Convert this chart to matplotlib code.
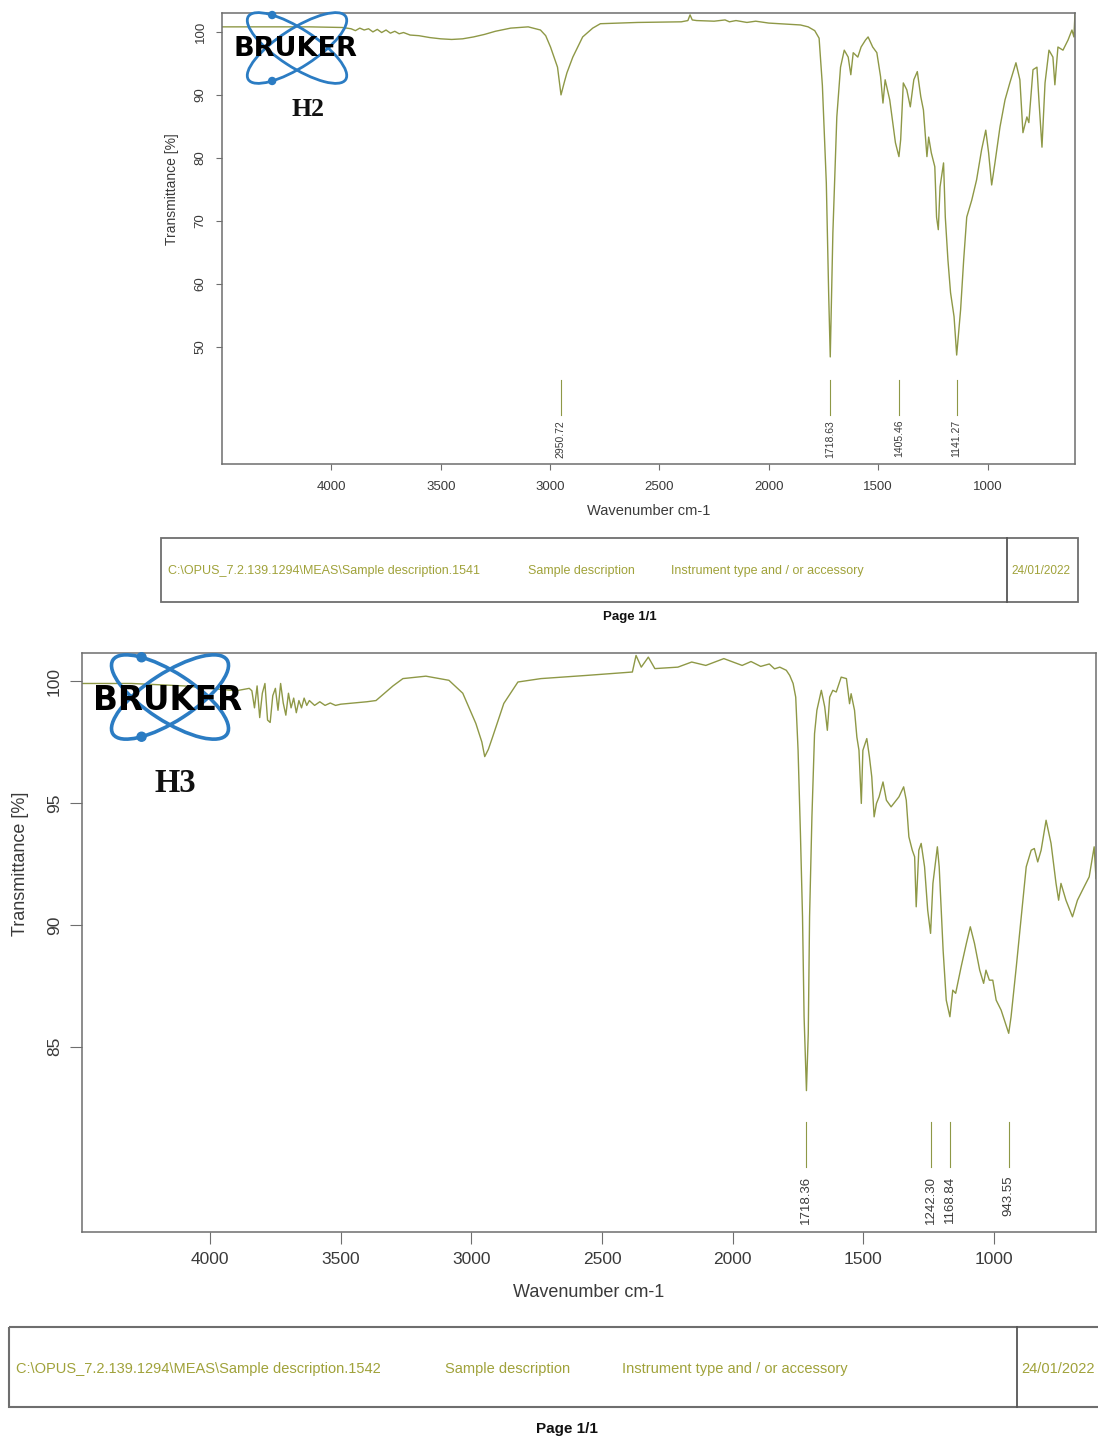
import matplotlib
matplotlib.use("Agg")
import matplotlib.pyplot as plt
from matplotlib.patches import Ellipse, Rectangle, Circle
from matplotlib.transforms import blended_transform_factory
import numpy as np

plt.rcParams['font.family'] = ['Liberation Sans', 'DejaVu Sans']

# ---------------- data: H2 spectrum ----------------
h2_wn = [4500, 4300, 4100, 3950, 3910, 3890, 3870, 3850, 3830, 3810, 3790, 3770, 3750, 3730,
         3710, 3690, 3670, 3640, 3600, 3550, 3500, 3450, 3400, 3350, 3300, 3250, 3180, 3100,
         3044, 3020, 2998, 2966, 2950, 2935, 2923, 2896, 2851, 2805, 2770, 2600, 2400, 2370,
         2360, 2350, 2330, 2250, 2200, 2180, 2150, 2100, 2060, 2000, 1900, 1855, 1820, 1790,
         1770, 1755, 1737, 1726, 1719, 1707, 1689, 1672, 1655, 1637, 1625, 1614, 1593, 1578,
         1558, 1546, 1525, 1506, 1489, 1478, 1468, 1447, 1421, 1405, 1397, 1385, 1369, 1353,
         1337, 1321, 1305, 1293, 1277, 1269, 1257, 1241, 1233, 1225, 1217, 1201, 1193, 1181,
         1169, 1153, 1141, 1123, 1109, 1095, 1072, 1050, 1027, 1008, 995, 981, 966, 943, 920,
         898, 870, 852, 838, 820, 811, 792, 774, 765, 751, 737, 719, 701, 692, 678, 655, 632,
         614, 605, 600]
h2_t = [100.8, 100.8, 100.8, 100.7, 100.5, 100.2, 100.6, 100.3, 100.5, 100.0, 100.4, 99.9, 100.3, 99.8,
        100.1, 99.7, 99.9, 99.5, 99.4, 99.1, 98.9, 98.8, 98.9, 99.2, 99.6, 100.1, 100.6, 100.8,
        100.3, 99.4, 97.6, 94.4, 90.0, 92.0, 93.5, 96.0, 99.2, 100.6, 101.3, 101.5, 101.6, 101.8,
        102.7, 101.9, 101.8, 101.7, 101.9, 101.6, 101.8, 101.5, 101.7, 101.4, 101.2, 101.1, 100.8, 100.2,
        99.0, 91.5, 76.0, 58.0, 48.4, 68.1, 86.5, 94.4, 97.1, 96.0, 93.2, 96.7, 96.0, 97.6,
        98.7, 99.2, 97.6, 96.7, 92.9, 88.7, 92.4, 89.2, 82.4, 80.2, 82.9, 91.9, 90.8, 88.1,
        92.4, 93.7, 89.7, 87.6, 80.2, 83.3, 80.8, 78.6, 70.6, 68.6, 75.4, 79.2, 70.6, 63.8,
        58.6, 54.8, 48.7, 55.9, 63.8, 70.6, 73.3, 76.5, 81.3, 84.4, 80.8, 75.7, 79.2, 84.9, 89.2,
        91.9, 95.1, 92.4, 84.0, 86.5, 85.6, 94.0, 94.4, 89.2, 81.7, 91.9, 97.1, 96.0, 91.6, 97.6, 97.1, 98.7,
        100.3, 99.2, 103.0]
h2_peaks = [2950.72, 1718.63, 1405.46, 1141.27]
h2_peak_labels = ["2950.72", "1718.63", "1405.46", "1141.27"]

# ---------------- data: H3 spectrum ----------------
h3_wn = [4490, 4300, 4100, 3900, 3850, 3840, 3830, 3820, 3810, 3800, 3790, 3780, 3770, 3760,
         3750, 3740, 3730, 3720, 3710, 3700, 3690, 3680, 3670, 3660, 3650, 3640, 3630, 3620,
         3600, 3580, 3560, 3540, 3520, 3500, 3450, 3400, 3365, 3300, 3262, 3174, 3086, 3033,
         2983, 2960, 2949, 2935, 2919, 2876, 2822, 2734, 2560, 2384, 2370, 2350, 2323, 2298,
         2210, 2157, 2103, 2034, 1964, 1930, 1893, 1860, 1840, 1820, 1795, 1782, 1769, 1759,
         1750, 1741, 1733, 1727, 1718, 1711, 1706, 1697, 1687, 1678, 1661, 1648, 1638, 1629,
         1617, 1604, 1585, 1565, 1553, 1547, 1534, 1525, 1517, 1508, 1502, 1487, 1477, 1468,
         1459, 1450, 1440, 1425, 1412, 1394, 1374, 1364, 1346, 1336, 1326, 1313, 1304, 1298,
         1288, 1279, 1266, 1254, 1243, 1234, 1217, 1210, 1195, 1183, 1169, 1158, 1147, 1126,
         1106, 1091, 1075, 1055, 1040, 1031, 1018, 1005, 992, 973, 944, 935, 915, 896, 877,
         858, 846, 833, 820, 801, 782, 763, 753, 744, 725, 700, 681, 662, 636, 617, 610]
h3_t = [99.9, 99.9, 99.8, 99.6, 99.7, 99.6, 98.9, 99.8, 98.5, 99.5, 99.9, 98.4, 98.3, 99.4,
        99.7, 98.8, 99.9, 99.1, 98.6, 99.5, 98.9, 99.3, 98.7, 99.2, 98.9, 99.3, 99.0, 99.2,
        99.0, 99.15, 99.0, 99.1, 99.0, 99.05, 99.1, 99.15, 99.2, 99.8, 100.1, 100.2, 100.03, 99.5,
        98.26, 97.5, 96.9, 97.2, 97.7, 99.08, 99.96, 100.1, 100.23, 100.37, 101.05, 100.57, 100.98, 100.51,
        100.57, 100.78, 100.64, 100.92, 100.64, 100.8, 100.6, 100.7, 100.5, 100.57, 100.44, 100.23, 99.9, 99.34,
        97.16, 93.75, 90.33, 86.23, 83.2, 85.55, 90.33, 94.43, 97.84, 98.8, 99.62, 98.94, 97.98, 99.34,
        99.62, 99.55, 100.16, 100.1, 99.07, 99.48, 98.8, 97.7, 97.16, 94.98, 97.16, 97.64, 96.89, 96.07,
        94.43, 94.98, 95.25, 95.86, 95.11, 94.84, 95.11, 95.25, 95.66, 95.11, 93.61, 93.06, 92.79, 90.74,
        93.06, 93.34, 92.38, 90.6, 89.65, 91.7, 93.2, 92.38, 88.96, 86.91, 86.23, 87.32, 87.19, 88.28,
        89.24, 89.92, 89.24, 88.14, 87.6, 88.14, 87.73, 87.73, 86.91, 86.5, 85.55, 86.23, 88.28, 90.33, 92.38,
        93.06, 93.13, 92.58, 93.06, 94.29, 93.34, 91.7, 91.01, 91.7, 91.01, 90.33, 91.01, 91.42, 91.97, 93.2, 91.9]
h3_peaks = [1718.36, 1242.30, 1168.84, 943.55]
h3_peak_labels = ["1718.36", "1242.30", "1168.84", "943.55"]

x_ticks = [4000, 3500, 3000, 2500, 2000, 1500, 1000]
h2_yticks = [50, 60, 70, 80, 90, 100]
h3_yticks = [85, 90, 95, 100]

footer_path_h2 = "C:\\OPUS_7.2.139.1294\\MEAS\\Sample description.1541"
footer_path_h3 = "C:\\OPUS_7.2.139.1294\\MEAS\\Sample description.1542"
footer_desc = "Sample description"
footer_instr = "Instrument type and / or accessory"
footer_date = "24/01/2022"

# ---------------- figure ----------------
W, H = 1098, 1440
fig = plt.figure(figsize=(W / 100, H / 100), dpi=100)

LINE = '#8e9846'
FRAME = '#6e6e6e'
TXT = '#3a3a3a'
FOOT = '#a0a23a'


def box(x0, y0, x1, y1):
    return [x0 / W, 1 - y1 / H, (x1 - x0) / W, (y1 - y0) / H]


def make_axes(rect, xlim, ylim, yticks, fs, tlen, xpad, ypad):
    ax = fig.add_axes(rect)
    ax.set_xlim(*xlim)
    ax.set_ylim(*ylim)
    ax.set_xticks(x_ticks)
    ax.set_yticks(yticks)
    ax.tick_params(axis='both', colors=FRAME, labelcolor=TXT, labelsize=fs,
                   length=tlen, width=0.8)
    ax.tick_params(axis='x', pad=xpad)
    ax.tick_params(axis='y', pad=ypad)
    plt.setp(ax.get_yticklabels(), rotation=90, va='center')
    for s in ax.spines.values():
        s.set_color(FRAME)
        s.set_linewidth(1.1)
    return ax


# ---- H2 panel ----
ax1 = make_axes(box(222, 13, 1075, 464), (4500, 600), (31.4, 103.0), h2_yticks, 9.5, 4.5, 8, 6.5)
ax1.plot(h2_wn, h2_t, color=LINE, lw=1.0)
for wn, lab in zip(h2_peaks, h2_peak_labels):
    ax1.plot([wn, wn], [44.8, 39.2], color=LINE, lw=0.8)
    ax1.text(wn, 38.4, lab, rotation=90, ha='center', va='top', fontsize=7.5, color=TXT)
ax1.set_xlabel("Wavenumber cm-1", fontsize=10.5, color=TXT, labelpad=8)
ax1.set_ylabel("Transmittance [%]", fontsize=10, color=TXT)
ax1.yaxis.set_label_coords(-0.050, np.mean([min(h2_yticks), max(h2_yticks)]),
                           transform=blended_transform_factory(ax1.transAxes, ax1.transData))

# ---- H3 panel ----
ax2 = make_axes(box(82, 653, 1096, 1232), (4490, 610), (77.4, 101.15), h3_yticks, 12.5, 8.5, 6, 6)
ax2.plot(h3_wn, h3_t, color=LINE, lw=1.0)
for wn, lab in zip(h3_peaks, h3_peak_labels):
    ax2.plot([wn, wn], [81.9, 80.07], color=LINE, lw=0.8)
    ax2.text(wn, 79.7, lab, rotation=90, ha='center', va='top', fontsize=9.5, color=TXT)
ax2.set_xlabel("Wavenumber cm-1", fontsize=13, color=TXT, labelpad=12)
ax2.set_ylabel("Transmittance [%]", fontsize=13, color=TXT)
ax2.yaxis.set_label_coords(-0.052, np.mean([min(h3_yticks), max(h3_yticks)]),
                           transform=blended_transform_factory(ax2.transAxes, ax2.transData))

# ---------------- overlay (pixel coordinates) ----------------
ov = fig.add_axes([0, 0, 1, 1])
ov.set_xlim(0, W)
ov.set_ylim(H, 0)
ov.set_axis_off()

BLUE = '#2b7cc3'


def logo(cx, cy, a, b, lw, r, tx, ty, fs):
    phi = np.deg2rad(33)
    for sgn in (1, -1):
        ov.add_patch(Ellipse((cx, cy), 2 * a, 2 * b, angle=sgn * 33, fill=False,
                             ec=BLUE, lw=lw, zorder=5))
    # a dot on the first ellipse (upper left) and its mirror on the second (lower left)
    t = np.deg2rad(228)
    dx = a * np.cos(t) * np.cos(phi) - b * np.sin(t) * np.sin(phi)
    dy = a * np.cos(t) * np.sin(phi) + b * np.sin(t) * np.cos(phi)
    ov.add_patch(Circle((cx + dx, cy + dy), r, color=BLUE, zorder=6))
    ov.add_patch(Circle((cx + dx, cy - dy), r, color=BLUE, zorder=6))
    ov.text(tx, ty, "BRUKER", fontsize=fs, fontweight='bold', family='DejaVu Sans',
            color='black', ha='center', va='center', zorder=7)


logo(297, 48, 58, 19, 2.0, 3.5, 295, 49, 19.5)
ov.text(308, 109, "H2", fontsize=18.5, fontweight='bold', family='Liberation Serif',
        color='#111111', ha='center', va='center')

logo(170, 697, 68, 24, 2.6, 4.5, 168, 700, 23.5)
ov.text(175, 783, "H3", fontsize=23.5, fontweight='bold', family='Liberation Serif',
        color='#111111', ha='center', va='center')

# footers
ov.add_patch(Rectangle((161, 538), 917, 64, fill=False, ec=FRAME, lw=1.3))
ov.plot([1007, 1007], [538, 602], color='#555555', lw=1.3)
fy = 571
ov.text(168, fy, footer_path_h2, fontsize=9, color=FOOT, va='center')
ov.text(528, fy, footer_desc, fontsize=9, color=FOOT, va='center')
ov.text(671, fy, footer_instr, fontsize=9, color=FOOT, va='center')
ov.text(1011, fy, footer_date, fontsize=8.5, color=FOOT, va='center')
ov.text(630, 617, "Page 1/1", fontsize=9.5, fontweight='bold', color='#111111',
        ha='center', va='center')

ov.add_patch(Rectangle((9, 1327), 1100, 80, fill=False, ec=FRAME, lw=1.5))
ov.plot([1017, 1017], [1327, 1407], color='#555555', lw=1.3)
fy = 1369
ov.text(16, fy, footer_path_h3, fontsize=10.5, color=FOOT, va='center')
ov.text(445, fy, footer_desc, fontsize=10.5, color=FOOT, va='center')
ov.text(622, fy, footer_instr, fontsize=10.5, color=FOOT, va='center')
ov.text(1021, fy, footer_date, fontsize=10.5, color=FOOT, va='center')
ov.text(567, 1429, "Page 1/1", fontsize=11, fontweight='bold', color='#111111',
        ha='center', va='center')

fig.savefig("out.png", dpi=100)
